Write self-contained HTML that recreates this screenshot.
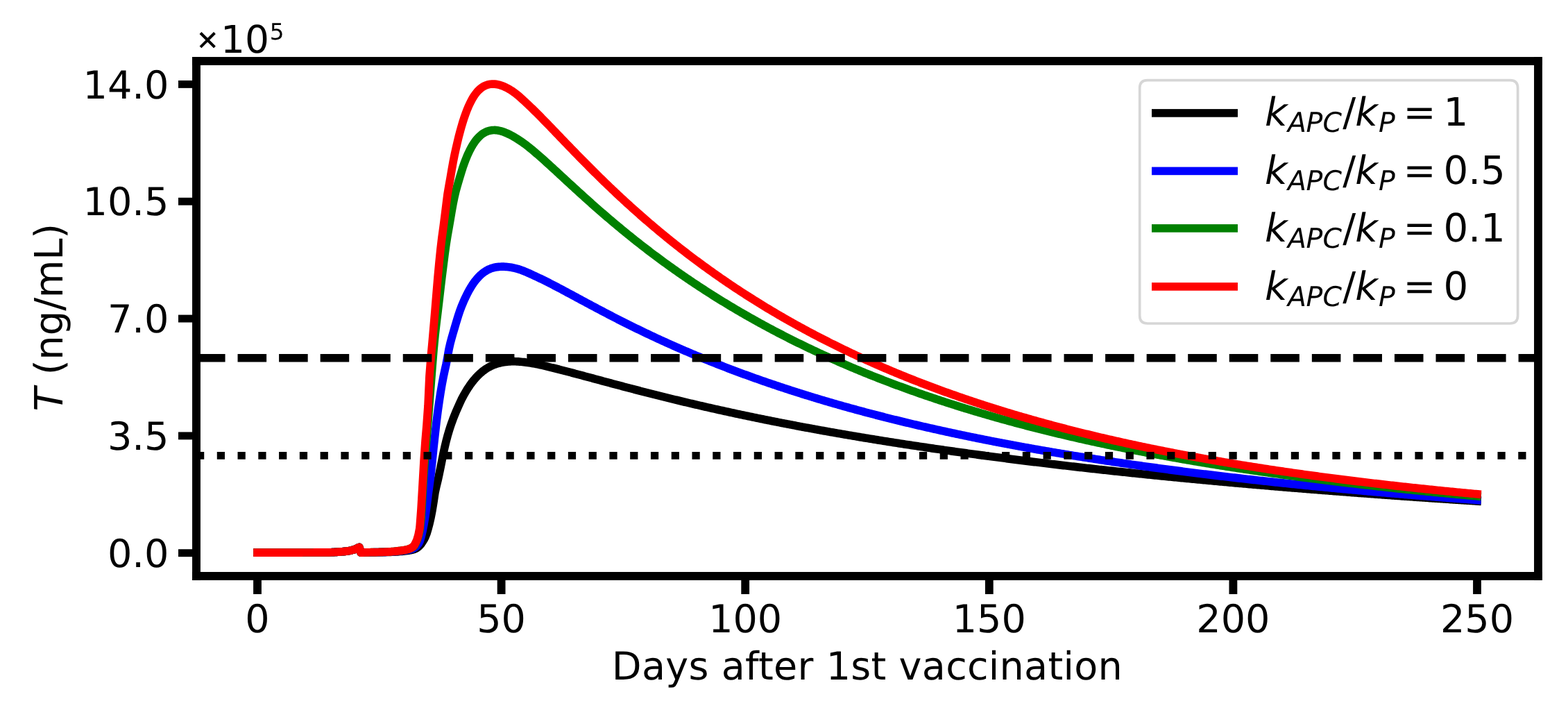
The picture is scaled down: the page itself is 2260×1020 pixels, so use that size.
<!DOCTYPE html>
<html lang="en">
<head>
<meta charset="utf-8">
<title>T (ng/mL) vs days after 1st vaccination</title>
<style>
html,body{margin:0;padding:0;background:#fff;}
body{width:2260px;height:1020px;overflow:hidden;}
svg{display:block;}
text{font-family:"DejaVu Sans", "Liberation Sans", sans-serif;font-size:56.18px;fill:#000;text-rendering:geometricPrecision;}
.yt text{font-size:55.7px;}
.xt text{font-size:55.6px;}
</style>
</head>
<body>
<svg width="2260" height="1020" viewBox="0 0 2260 1020" role="img" aria-label="T (ng/mL) versus days after 1st vaccination for four k_APC/k_P ratios">
<rect x="0" y="0" width="2260" height="1020" fill="#fff"/>
<defs><clipPath id="ax"><rect x="283" y="88" width="1934" height="741.95"/></clipPath></defs>
<g clip-path="url(#ax)" fill="none" stroke-width="11.7" stroke-linejoin="round" stroke-linecap="square">
<path d="M371 796.1 L373 796.1 L375 796.1 L377 796.1 L379 796.1 L381 796.1 L383 796.1 L385 796.1 L387 796.1 L389 796.1 L391 796.09 L393 796.09 L395 796.09 L397 796.09 L399 796.09 L401 796.09 L403 796.08 L405 796.08 L407 796.08 L409 796.08 L411 796.08 L413 796.07 L415 796.07 L417 796.07 L419 796.06 L421 796.06 L423 796.06 L425 796.05 L427 796.05 L429 796.04 L431 796.04 L433 796.03 L435 796.03 L437 796.02 L439 796.02 L441 796.01 L443 796.01 L445 796 L447 795.99 L449 795.99 L451 795.98 L453 795.97 L455 795.96 L457 795.96 L459 795.95 L461 795.94 L463 795.93 L465 795.92 L467 795.91 L469 795.9 L471 795.89 L473 795.86 L475 795.81 L477 795.74 L479 795.65 L481 795.55 L483 795.44 L485 795.32 L487 795.19 L489 795.06 L491 794.93 L493 794.77 L495 794.59 L497 794.37 L499 794.13 L501 793.86 L503 793.53 L505 793.14 L507 792.69 L509 792.18 L511 791.57 L513 790.74 L515 789.76 L517 788.62 L518 788.4 L520 796.1 L521 796.09 L523 796.03 L525 795.95 L527 795.9 L529 795.88 L531 795.86 L533 795.85 L535 795.84 L537 795.83 L539 795.81 L541 795.79 L543 795.76 L545 795.73 L547 795.7 L549 795.66 L551 795.62 L553 795.58 L555 795.53 L557 795.48 L559 795.43 L561 795.37 L563 795.31 L565 795.23 L567 795.15 L569 795.05 L571 794.94 L573 794.81 L575 794.65 L577 794.48 L579 794.3 L581 794.1 L583 793.9 L585 793.69 L587 793.44 L589 793.16 L591 792.83 L593 792.44 L595 791.95 L597 791.35 L599 790.57 L601 789.38 L603 787.86 L605 786.03 L607 783.64 L609 780.77 L611 777.5 L613 773.54 L615 768.63 L617 761.83 L619 754.25 L621 745.38 L623 735.1 L625 722.7 L627 709.47 L629 700.36 L631 692.21 L633 683.03 L635 673.41 L637 663.45 L639 653.3 L641 644.18 L643 635.76 L645 628.19 L647 621.34 L649 615.02 L651 609.14 L653 603.67 L655 598.58 L657 593.72 L659 589.18 L661 584.7 L663 580.18 L665 575.81 L667 571.96 L669 568.3 L671 564.83 L673 561.53 L675 558.41 L677 555.45 L679 552.65 L681 550.01 L683 547.52 L685 545.17 L687 542.97 L689 540.9 L691 538.97 L693 537.16 L695 535.48 L697 533.92 L699 532.46 L701 531.12 L703 529.89 L705 528.75 L707 527.71 L709 526.76 L711 525.9 L713 525.12 L715 524.42 L717 523.79 L719 523.23 L721 522.73 L723 522.29 L725 521.91 L727 521.59 L729 521.32 L731 521.11 L733 520.94 L735 520.82 L737 520.74 L739 520.71 L741 520.71 L743 520.76 L745 520.83 L747 520.94 L749 521.09 L751 521.26 L753 521.45 L755 521.67 L757 521.91 L759 522.18 L761 522.45 L763 522.75 L765 523.05 L767 523.38 L769 523.71 L771 524.06 L773 524.44 L775 524.83 L777 525.25 L779 525.68 L781 526.14 L783 526.61 L785 527.09 L787 527.58 L789 528.07 L791 528.57 L793 529.07 L795 529.56 L797 530.05 L799 530.55 L801 531.05 L803 531.55 L805 532.05 L807 532.56 L809 533.07 L811 533.58 L813 534.1 L815 534.62 L817 535.14 L819 535.66 L821 536.18 L823 536.71 L825 537.24 L827 537.77 L829 538.29 L831 538.83 L833 539.36 L835 539.89 L837 540.43 L839 540.96 L841 541.5 L843 542.03 L845 542.57 L847 543.11 L849 543.64 L851 544.18 L853 544.72 L855 545.26 L857 545.8 L859 546.34 L861 546.87 L863 547.41 L865 547.95 L867 548.49 L869 549.03 L871 549.56 L873 550.1 L875 550.64 L877 551.17 L879 551.71 L881 552.24 L883 552.78 L885 553.31 L887 553.85 L889 554.38 L891 554.91 L893 555.44 L895 555.97 L897 556.5 L899 557.03 L901 557.56 L903 558.09 L905 558.61 L907 559.14 L909 559.66 L911 560.18 L913 560.71 L915 561.23 L917 561.75 L919 562.27 L921 562.78 L923 563.3 L925 563.82 L927 564.33 L929 564.84 L931 565.36 L933 565.87 L935 566.38 L937 566.89 L939 567.39 L941 567.9 L943 568.4 L945 568.91 L947 569.41 L949 569.91 L951 570.41 L953 570.91 L955 571.41 L957 571.91 L959 572.4 L961 572.89 L963 573.39 L965 573.88 L967 574.37 L969 574.86 L971 575.34 L973 575.83 L975 576.31 L977 576.8 L979 577.28 L981 577.76 L983 578.24 L985 578.72 L987 579.19 L989 579.67 L991 580.14 L993 580.62 L995 581.09 L997 581.56 L999 582.03 L1001 582.5 L1003 582.96 L1005 583.43 L1007 583.89 L1009 584.35 L1011 584.81 L1013 585.27 L1015 585.73 L1017 586.19 L1019 586.64 L1021 587.1 L1023 587.55 L1025 588 L1027 588.45 L1029 588.9 L1031 589.35 L1033 589.8 L1035 590.24 L1037 590.69 L1039 591.13 L1041 591.57 L1043 592.01 L1045 592.45 L1047 592.89 L1049 593.33 L1051 593.76 L1053 594.2 L1055 594.63 L1057 595.06 L1059 595.49 L1061 595.92 L1063 596.35 L1065 596.77 L1067 597.2 L1069 597.62 L1071 598.05 L1073 598.47 L1075 598.89 L1077 599.31 L1079 599.73 L1081 600.14 L1083 600.56 L1085 600.97 L1087 601.39 L1089 601.8 L1091 602.21 L1093 602.62 L1095 603.03 L1097 603.44 L1099 603.84 L1101 604.25 L1103 604.65 L1105 605.05 L1107 605.45 L1109 605.85 L1111 606.25 L1113 606.65 L1115 607.05 L1117 607.45 L1119 607.84 L1121 608.23 L1123 608.63 L1125 609.02 L1127 609.41 L1129 609.8 L1131 610.18 L1133 610.57 L1135 610.96 L1137 611.34 L1139 611.73 L1141 612.11 L1143 612.49 L1145 612.87 L1147 613.25 L1149 613.63 L1151 614.01 L1153 614.38 L1155 614.76 L1157 615.13 L1159 615.5 L1161 615.88 L1163 616.25 L1165 616.62 L1167 616.99 L1169 617.35 L1171 617.72 L1173 618.09 L1175 618.45 L1177 618.81 L1179 619.18 L1181 619.54 L1183 619.9 L1185 620.26 L1187 620.62 L1189 620.98 L1191 621.33 L1193 621.69 L1195 622.04 L1197 622.4 L1199 622.75 L1201 623.1 L1203 623.45 L1205 623.8 L1207 624.15 L1209 624.5 L1211 624.85 L1213 625.19 L1215 625.54 L1217 625.88 L1219 626.23 L1221 626.57 L1223 626.91 L1225 627.25 L1227 627.59 L1229 627.93 L1231 628.27 L1233 628.6 L1235 628.94 L1237 629.28 L1239 629.61 L1241 629.94 L1243 630.28 L1245 630.61 L1247 630.94 L1249 631.27 L1251 631.6 L1253 631.93 L1255 632.25 L1257 632.58 L1259 632.9 L1261 633.23 L1263 633.55 L1265 633.88 L1267 634.2 L1269 634.52 L1271 634.84 L1273 635.16 L1275 635.48 L1277 635.8 L1279 636.11 L1281 636.43 L1283 636.74 L1285 637.06 L1287 637.37 L1289 637.69 L1291 638 L1293 638.31 L1295 638.62 L1297 638.93 L1299 639.24 L1301 639.55 L1303 639.85 L1305 640.16 L1307 640.47 L1309 640.77 L1311 641.07 L1313 641.38 L1315 641.68 L1317 641.98 L1319 642.28 L1321 642.58 L1323 642.88 L1325 643.18 L1327 643.48 L1329 643.78 L1331 644.07 L1333 644.37 L1335 644.66 L1337 644.96 L1339 645.25 L1341 645.54 L1343 645.84 L1345 646.13 L1347 646.42 L1349 646.71 L1351 647 L1353 647.29 L1355 647.57 L1357 647.86 L1359 648.15 L1361 648.43 L1363 648.72 L1365 649 L1367 649.28 L1369 649.57 L1371 649.85 L1373 650.13 L1375 650.41 L1377 650.69 L1379 650.97 L1381 651.25 L1383 651.53 L1385 651.8 L1387 652.08 L1389 652.35 L1391 652.63 L1393 652.9 L1395 653.18 L1397 653.45 L1399 653.72 L1401 654 L1403 654.27 L1405 654.54 L1407 654.81 L1409 655.08 L1411 655.34 L1413 655.61 L1415 655.88 L1417 656.15 L1419 656.41 L1421 656.68 L1423 656.94 L1425 657.21 L1427 657.47 L1429 657.73 L1431 657.99 L1433 658.25 L1435 658.52 L1437 658.78 L1439 659.03 L1441 659.29 L1443 659.55 L1445 659.81 L1447 660.07 L1449 660.32 L1451 660.58 L1453 660.83 L1455 661.09 L1457 661.34 L1459 661.6 L1461 661.85 L1463 662.1 L1465 662.35 L1467 662.6 L1469 662.85 L1471 663.1 L1473 663.35 L1475 663.6 L1477 663.85 L1479 664.1 L1481 664.35 L1483 664.59 L1485 664.84 L1487 665.08 L1489 665.33 L1491 665.57 L1493 665.82 L1495 666.06 L1497 666.3 L1499 666.54 L1501 666.78 L1503 667.02 L1505 667.26 L1507 667.5 L1509 667.74 L1511 667.98 L1513 668.22 L1515 668.46 L1517 668.69 L1519 668.93 L1521 669.17 L1523 669.4 L1525 669.64 L1527 669.87 L1529 670.1 L1531 670.34 L1533 670.57 L1535 670.8 L1537 671.03 L1539 671.26 L1541 671.5 L1543 671.73 L1545 671.95 L1547 672.18 L1549 672.41 L1551 672.64 L1553 672.87 L1555 673.09 L1557 673.32 L1559 673.55 L1561 673.77 L1563 674 L1565 674.22 L1567 674.44 L1569 674.67 L1571 674.89 L1573 675.11 L1575 675.34 L1577 675.56 L1579 675.78 L1581 676 L1583 676.22 L1585 676.44 L1587 676.66 L1589 676.87 L1591 677.09 L1593 677.31 L1595 677.53 L1597 677.74 L1599 677.96 L1601 678.17 L1603 678.39 L1605 678.6 L1607 678.82 L1609 679.03 L1611 679.25 L1613 679.46 L1615 679.67 L1617 679.88 L1619 680.09 L1621 680.3 L1623 680.51 L1625 680.72 L1627 680.93 L1629 681.14 L1631 681.35 L1633 681.56 L1635 681.77 L1637 681.97 L1639 682.18 L1641 682.39 L1643 682.59 L1645 682.8 L1647 683 L1649 683.21 L1651 683.41 L1653 683.62 L1655 683.82 L1657 684.02 L1659 684.23 L1661 684.43 L1663 684.63 L1665 684.83 L1667 685.03 L1669 685.23 L1671 685.43 L1673 685.63 L1675 685.83 L1677 686.03 L1679 686.23 L1681 686.42 L1683 686.62 L1685 686.82 L1687 687.01 L1689 687.21 L1691 687.4 L1693 687.6 L1695 687.79 L1697 687.99 L1699 688.18 L1701 688.38 L1703 688.57 L1705 688.76 L1707 688.95 L1709 689.15 L1711 689.34 L1713 689.53 L1715 689.72 L1717 689.91 L1719 690.1 L1721 690.29 L1723 690.48 L1725 690.67 L1727 690.86 L1729 691.04 L1731 691.23 L1733 691.42 L1735 691.61 L1737 691.79 L1739 691.98 L1741 692.16 L1743 692.35 L1745 692.53 L1747 692.72 L1749 692.9 L1751 693.09 L1753 693.27 L1755 693.45 L1757 693.63 L1759 693.82 L1761 694 L1763 694.18 L1765 694.36 L1767 694.54 L1769 694.72 L1771 694.9 L1773 695.08 L1775 695.26 L1777 695.44 L1779 695.62 L1781 695.8 L1783 695.97 L1785 696.15 L1787 696.33 L1789 696.5 L1791 696.68 L1793 696.86 L1795 697.03 L1797 697.21 L1799 697.38 L1801 697.56 L1803 697.73 L1805 697.9 L1807 698.08 L1809 698.25 L1811 698.42 L1813 698.6 L1815 698.77 L1817 698.94 L1819 699.11 L1821 699.28 L1823 699.45 L1825 699.62 L1827 699.79 L1829 699.96 L1831 700.13 L1833 700.3 L1835 700.47 L1837 700.64 L1839 700.81 L1841 700.97 L1843 701.14 L1845 701.31 L1847 701.47 L1849 701.64 L1851 701.81 L1853 701.97 L1855 702.14 L1857 702.3 L1859 702.47 L1861 702.63 L1863 702.8 L1865 702.96 L1867 703.12 L1869 703.29 L1871 703.45 L1873 703.61 L1875 703.77 L1877 703.93 L1879 704.1 L1881 704.26 L1883 704.42 L1885 704.58 L1887 704.74 L1889 704.9 L1891 705.06 L1893 705.22 L1895 705.38 L1897 705.53 L1899 705.69 L1901 705.85 L1903 706.01 L1905 706.17 L1907 706.32 L1909 706.48 L1911 706.64 L1913 706.79 L1915 706.95 L1917 707.1 L1919 707.26 L1921 707.41 L1923 707.57 L1925 707.72 L1927 707.88 L1929 708.03 L1931 708.18 L1933 708.34 L1935 708.49 L1937 708.64 L1939 708.79 L1941 708.95 L1943 709.1 L1945 709.25 L1947 709.4 L1949 709.55 L1951 709.7 L1953 709.85 L1955 710 L1957 710.15 L1959 710.3 L1961 710.45 L1963 710.6 L1965 710.74 L1967 710.89 L1969 711.04 L1971 711.19 L1973 711.34 L1975 711.48 L1977 711.63 L1979 711.78 L1981 711.92 L1983 712.07 L1985 712.21 L1987 712.36 L1989 712.5 L1991 712.65 L1993 712.79 L1995 712.94 L1997 713.08 L1999 713.22 L2001 713.37 L2003 713.51 L2005 713.65 L2007 713.8 L2009 713.94 L2011 714.08 L2013 714.22 L2015 714.36 L2017 714.51 L2019 714.65 L2021 714.79 L2023 714.93 L2025 715.07 L2027 715.21 L2029 715.35 L2031 715.49 L2033 715.63 L2035 715.76 L2037 715.9 L2039 716.04 L2041 716.18 L2043 716.32 L2045 716.45 L2047 716.59 L2049 716.73 L2051 716.87 L2053 717 L2055 717.14 L2057 717.27 L2059 717.41 L2061 717.54 L2063 717.68 L2065 717.81 L2067 717.95 L2069 718.08 L2071 718.22 L2073 718.35 L2075 718.49 L2077 718.62 L2079 718.75 L2081 718.89 L2083 719.02 L2085 719.15 L2087 719.28 L2089 719.41 L2091 719.55 L2093 719.68 L2095 719.81 L2097 719.94 L2099 720.07 L2101 720.2 L2103 720.33 L2105 720.46 L2107 720.59 L2109 720.72 L2111 720.85 L2113 720.98 L2115 721.11 L2117 721.24 L2119 721.36 L2121 721.49 L2123 721.62 L2125 721.75 L2127 721.88 L2129 722" stroke="#000000"/>
<path d="M371 796.1 L373 796.1 L375 796.1 L377 796.1 L379 796.1 L381 796.1 L383 796.1 L385 796.1 L387 796.1 L389 796.1 L391 796.09 L393 796.09 L395 796.09 L397 796.09 L399 796.09 L401 796.09 L403 796.08 L405 796.08 L407 796.08 L409 796.08 L411 796.08 L413 796.07 L415 796.07 L417 796.07 L419 796.06 L421 796.06 L423 796.06 L425 796.05 L427 796.05 L429 796.04 L431 796.04 L433 796.03 L435 796.03 L437 796.02 L439 796.02 L441 796.01 L443 796.01 L445 796 L447 795.99 L449 795.99 L451 795.98 L453 795.97 L455 795.96 L457 795.96 L459 795.95 L461 795.94 L463 795.93 L465 795.92 L467 795.91 L469 795.9 L471 795.89 L473 795.86 L475 795.81 L477 795.74 L479 795.65 L481 795.55 L483 795.44 L485 795.32 L487 795.19 L489 795.06 L491 794.93 L493 794.77 L495 794.59 L497 794.37 L499 794.13 L501 793.86 L503 793.53 L505 793.14 L507 792.69 L509 792.18 L511 791.57 L513 790.74 L515 789.76 L517 788.62 L518 788.4 L520 796.1 L521 796.09 L523 796.04 L525 795.96 L527 795.9 L529 795.86 L531 795.83 L533 795.8 L535 795.78 L537 795.75 L539 795.72 L541 795.68 L543 795.64 L545 795.6 L547 795.56 L549 795.52 L551 795.47 L553 795.42 L555 795.36 L557 795.3 L559 795.24 L561 795.16 L563 795.06 L565 794.95 L567 794.82 L569 794.67 L571 794.52 L573 794.35 L575 794.16 L577 793.95 L579 793.72 L581 793.48 L583 793.22 L585 792.93 L587 792.6 L589 792.22 L591 791.76 L593 791.18 L595 790.44 L597 789.5 L599 788.11 L601 786.15 L603 783.67 L605 780 L607 773.59 L609 765.22 L611 755.06 L613 743.23 L615 729.26 L617 713.11 L619 698.79 L621 683.23 L623 664.18 L625 644.61 L627 626.36 L629 608.63 L631 592.78 L633 578.68 L635 565.73 L637 553.89 L639 543.31 L641 534.04 L643 524.9 L645 514.58 L647 503.4 L649 494.49 L651 486.99 L653 480 L655 473.28 L657 466.44 L659 459.78 L661 453.3 L663 447.34 L665 442.08 L667 437.18 L669 432.55 L671 428.2 L673 424.11 L675 420.27 L677 416.67 L679 413.32 L681 410.19 L683 407.29 L685 404.6 L687 402.12 L689 399.84 L691 397.76 L693 395.85 L695 394.12 L697 392.57 L699 391.17 L701 389.92 L703 388.83 L705 387.87 L707 387.04 L709 386.33 L711 385.74 L713 385.25 L715 384.87 L717 384.57 L719 384.36 L721 384.23 L723 384.16 L725 384.16 L727 384.22 L729 384.33 L731 384.5 L733 384.73 L735 385 L737 385.33 L739 385.71 L741 386.14 L743 386.61 L745 387.13 L747 387.69 L749 388.32 L751 389 L753 389.72 L755 390.5 L757 391.31 L759 392.16 L761 393.04 L763 393.94 L765 394.85 L767 395.77 L769 396.7 L771 397.62 L773 398.55 L775 399.49 L777 400.43 L779 401.38 L781 402.34 L783 403.32 L785 404.31 L787 405.3 L789 406.31 L791 407.32 L793 408.34 L795 409.36 L797 410.4 L799 411.44 L801 412.48 L803 413.53 L805 414.58 L807 415.64 L809 416.7 L811 417.76 L813 418.83 L815 419.9 L817 420.97 L819 422.05 L821 423.12 L823 424.2 L825 425.27 L827 426.35 L829 427.43 L831 428.51 L833 429.59 L835 430.66 L837 431.74 L839 432.82 L841 433.89 L843 434.97 L845 436.04 L847 437.12 L849 438.19 L851 439.26 L853 440.32 L855 441.39 L857 442.46 L859 443.52 L861 444.58 L863 445.64 L865 446.69 L867 447.75 L869 448.8 L871 449.85 L873 450.89 L875 451.94 L877 452.98 L879 454.01 L881 455.05 L883 456.08 L885 457.11 L887 458.14 L889 459.16 L891 460.18 L893 461.2 L895 462.21 L897 463.22 L899 464.23 L901 465.24 L903 466.24 L905 467.24 L907 468.23 L909 469.22 L911 470.21 L913 471.2 L915 472.18 L917 473.16 L919 474.13 L921 475.1 L923 476.07 L925 477.04 L927 478 L929 478.96 L931 479.91 L933 480.86 L935 481.81 L937 482.75 L939 483.7 L941 484.63 L943 485.57 L945 486.5 L947 487.43 L949 488.35 L951 489.27 L953 490.19 L955 491.1 L957 492.01 L959 492.92 L961 493.82 L963 494.73 L965 495.62 L967 496.52 L969 497.41 L971 498.29 L973 499.18 L975 500.06 L977 500.94 L979 501.81 L981 502.68 L983 503.55 L985 504.41 L987 505.27 L989 506.13 L991 506.99 L993 507.84 L995 508.69 L997 509.53 L999 510.37 L1001 511.21 L1003 512.05 L1005 512.88 L1007 513.71 L1009 514.53 L1011 515.36 L1013 516.18 L1015 516.99 L1017 517.81 L1019 518.62 L1021 519.43 L1023 520.23 L1025 521.03 L1027 521.83 L1029 522.62 L1031 523.42 L1033 524.21 L1035 524.99 L1037 525.78 L1039 526.56 L1041 527.33 L1043 528.11 L1045 528.88 L1047 529.65 L1049 530.41 L1051 531.18 L1053 531.94 L1055 532.7 L1057 533.45 L1059 534.2 L1061 534.95 L1063 535.7 L1065 536.44 L1067 537.18 L1069 537.92 L1071 538.65 L1073 539.38 L1075 540.11 L1077 540.84 L1079 541.56 L1081 542.28 L1083 543 L1085 543.72 L1087 544.43 L1089 545.14 L1091 545.85 L1093 546.56 L1095 547.26 L1097 547.96 L1099 548.66 L1101 549.35 L1103 550.04 L1105 550.73 L1107 551.42 L1109 552.1 L1111 552.79 L1113 553.46 L1115 554.14 L1117 554.82 L1119 555.49 L1121 556.16 L1123 556.82 L1125 557.49 L1127 558.15 L1129 558.81 L1131 559.47 L1133 560.12 L1135 560.78 L1137 561.43 L1139 562.07 L1141 562.72 L1143 563.36 L1145 564 L1147 564.64 L1149 565.28 L1151 565.91 L1153 566.54 L1155 567.17 L1157 567.8 L1159 568.42 L1161 569.04 L1163 569.66 L1165 570.28 L1167 570.9 L1169 571.51 L1171 572.12 L1173 572.73 L1175 573.33 L1177 573.94 L1179 574.54 L1181 575.14 L1183 575.74 L1185 576.33 L1187 576.93 L1189 577.52 L1191 578.11 L1193 578.7 L1195 579.28 L1197 579.86 L1199 580.44 L1201 581.02 L1203 581.6 L1205 582.17 L1207 582.75 L1209 583.32 L1211 583.89 L1213 584.45 L1215 585.02 L1217 585.58 L1219 586.14 L1221 586.7 L1223 587.25 L1225 587.81 L1227 588.36 L1229 588.91 L1231 589.46 L1233 590.01 L1235 590.55 L1237 591.09 L1239 591.63 L1241 592.17 L1243 592.71 L1245 593.25 L1247 593.78 L1249 594.31 L1251 594.84 L1253 595.37 L1255 595.89 L1257 596.42 L1259 596.94 L1261 597.46 L1263 597.98 L1265 598.5 L1267 599.01 L1269 599.52 L1271 600.03 L1273 600.54 L1275 601.05 L1277 601.56 L1279 602.06 L1281 602.56 L1283 603.07 L1285 603.56 L1287 604.06 L1289 604.56 L1291 605.05 L1293 605.54 L1295 606.03 L1297 606.52 L1299 607.01 L1301 607.49 L1303 607.98 L1305 608.46 L1307 608.94 L1309 609.42 L1311 609.9 L1313 610.37 L1315 610.85 L1317 611.32 L1319 611.79 L1321 612.26 L1323 612.73 L1325 613.19 L1327 613.66 L1329 614.12 L1331 614.58 L1333 615.04 L1335 615.5 L1337 615.95 L1339 616.41 L1341 616.86 L1343 617.31 L1345 617.76 L1347 618.21 L1349 618.66 L1351 619.11 L1353 619.55 L1355 619.99 L1357 620.43 L1359 620.87 L1361 621.31 L1363 621.75 L1365 622.18 L1367 622.62 L1369 623.05 L1371 623.48 L1373 623.91 L1375 624.34 L1377 624.77 L1379 625.19 L1381 625.61 L1383 626.04 L1385 626.46 L1387 626.88 L1389 627.3 L1391 627.71 L1393 628.13 L1395 628.54 L1397 628.95 L1399 629.37 L1401 629.78 L1403 630.19 L1405 630.59 L1407 631 L1409 631.4 L1411 631.81 L1413 632.21 L1415 632.61 L1417 633.01 L1419 633.41 L1421 633.8 L1423 634.2 L1425 634.59 L1427 634.99 L1429 635.38 L1431 635.77 L1433 636.16 L1435 636.54 L1437 636.93 L1439 637.32 L1441 637.7 L1443 638.08 L1445 638.46 L1447 638.85 L1449 639.22 L1451 639.6 L1453 639.98 L1455 640.35 L1457 640.73 L1459 641.1 L1461 641.47 L1463 641.84 L1465 642.21 L1467 642.58 L1469 642.95 L1471 643.31 L1473 643.68 L1475 644.04 L1477 644.41 L1479 644.77 L1481 645.13 L1483 645.49 L1485 645.84 L1487 646.2 L1489 646.56 L1491 646.91 L1493 647.26 L1495 647.62 L1497 647.97 L1499 648.32 L1501 648.67 L1503 649.01 L1505 649.36 L1507 649.71 L1509 650.05 L1511 650.39 L1513 650.74 L1515 651.08 L1517 651.42 L1519 651.76 L1521 652.09 L1523 652.43 L1525 652.77 L1527 653.1 L1529 653.44 L1531 653.77 L1533 654.1 L1535 654.43 L1537 654.76 L1539 655.09 L1541 655.42 L1543 655.74 L1545 656.07 L1547 656.4 L1549 656.72 L1551 657.04 L1553 657.36 L1555 657.68 L1557 658 L1559 658.32 L1561 658.64 L1563 658.96 L1565 659.27 L1567 659.59 L1569 659.9 L1571 660.21 L1573 660.53 L1575 660.84 L1577 661.15 L1579 661.46 L1581 661.76 L1583 662.07 L1585 662.38 L1587 662.68 L1589 662.99 L1591 663.29 L1593 663.59 L1595 663.89 L1597 664.2 L1599 664.5 L1601 664.79 L1603 665.09 L1605 665.39 L1607 665.69 L1609 665.98 L1611 666.28 L1613 666.57 L1615 666.86 L1617 667.15 L1619 667.44 L1621 667.73 L1623 668.02 L1625 668.31 L1627 668.6 L1629 668.89 L1631 669.17 L1633 669.46 L1635 669.74 L1637 670.02 L1639 670.31 L1641 670.59 L1643 670.87 L1645 671.15 L1647 671.43 L1649 671.71 L1651 671.98 L1653 672.26 L1655 672.54 L1657 672.81 L1659 673.09 L1661 673.36 L1663 673.63 L1665 673.9 L1667 674.17 L1669 674.44 L1671 674.71 L1673 674.98 L1675 675.25 L1677 675.52 L1679 675.78 L1681 676.05 L1683 676.31 L1685 676.58 L1687 676.84 L1689 677.1 L1691 677.37 L1693 677.63 L1695 677.89 L1697 678.15 L1699 678.4 L1701 678.66 L1703 678.92 L1705 679.18 L1707 679.43 L1709 679.69 L1711 679.94 L1713 680.19 L1715 680.45 L1717 680.7 L1719 680.95 L1721 681.2 L1723 681.45 L1725 681.7 L1727 681.95 L1729 682.2 L1731 682.44 L1733 682.69 L1735 682.94 L1737 683.18 L1739 683.42 L1741 683.67 L1743 683.91 L1745 684.15 L1747 684.4 L1749 684.64 L1751 684.88 L1753 685.12 L1755 685.35 L1757 685.59 L1759 685.83 L1761 686.07 L1763 686.3 L1765 686.54 L1767 686.77 L1769 687.01 L1771 687.24 L1773 687.47 L1775 687.71 L1777 687.94 L1779 688.17 L1781 688.4 L1783 688.63 L1785 688.86 L1787 689.09 L1789 689.31 L1791 689.54 L1793 689.77 L1795 689.99 L1797 690.22 L1799 690.44 L1801 690.67 L1803 690.89 L1805 691.11 L1807 691.34 L1809 691.56 L1811 691.78 L1813 692 L1815 692.22 L1817 692.44 L1819 692.66 L1821 692.87 L1823 693.09 L1825 693.31 L1827 693.52 L1829 693.74 L1831 693.95 L1833 694.17 L1835 694.38 L1837 694.6 L1839 694.81 L1841 695.02 L1843 695.23 L1845 695.44 L1847 695.65 L1849 695.86 L1851 696.07 L1853 696.28 L1855 696.49 L1857 696.7 L1859 696.9 L1861 697.11 L1863 697.32 L1865 697.52 L1867 697.73 L1869 697.93 L1871 698.13 L1873 698.34 L1875 698.54 L1877 698.74 L1879 698.94 L1881 699.15 L1883 699.35 L1885 699.55 L1887 699.75 L1889 699.94 L1891 700.14 L1893 700.34 L1895 700.54 L1897 700.73 L1899 700.93 L1901 701.13 L1903 701.32 L1905 701.52 L1907 701.71 L1909 701.9 L1911 702.1 L1913 702.29 L1915 702.48 L1917 702.67 L1919 702.87 L1921 703.06 L1923 703.25 L1925 703.44 L1927 703.63 L1929 703.81 L1931 704 L1933 704.19 L1935 704.38 L1937 704.56 L1939 704.75 L1941 704.94 L1943 705.12 L1945 705.31 L1947 705.49 L1949 705.67 L1951 705.86 L1953 706.04 L1955 706.22 L1957 706.41 L1959 706.59 L1961 706.77 L1963 706.95 L1965 707.13 L1967 707.31 L1969 707.49 L1971 707.67 L1973 707.85 L1975 708.02 L1977 708.2 L1979 708.38 L1981 708.55 L1983 708.73 L1985 708.91 L1987 709.08 L1989 709.26 L1991 709.43 L1993 709.6 L1995 709.78 L1997 709.95 L1999 710.12 L2001 710.3 L2003 710.47 L2005 710.64 L2007 710.81 L2009 710.98 L2011 711.15 L2013 711.32 L2015 711.49 L2017 711.66 L2019 711.82 L2021 711.99 L2023 712.16 L2025 712.33 L2027 712.49 L2029 712.66 L2031 712.83 L2033 712.99 L2035 713.16 L2037 713.32 L2039 713.48 L2041 713.65 L2043 713.81 L2045 713.97 L2047 714.14 L2049 714.3 L2051 714.46 L2053 714.62 L2055 714.78 L2057 714.94 L2059 715.1 L2061 715.26 L2063 715.42 L2065 715.58 L2067 715.74 L2069 715.9 L2071 716.06 L2073 716.21 L2075 716.37 L2077 716.53 L2079 716.68 L2081 716.84 L2083 716.99 L2085 717.15 L2087 717.3 L2089 717.46 L2091 717.61 L2093 717.77 L2095 717.92 L2097 718.07 L2099 718.23 L2101 718.38 L2103 718.53 L2105 718.68 L2107 718.83 L2109 718.98 L2111 719.13 L2113 719.28 L2115 719.43 L2117 719.58 L2119 719.73 L2121 719.88 L2123 720.03 L2125 720.17 L2127 720.32 L2129 720.47" stroke="#0000ff"/>
<path d="M371 796.1 L373 796.1 L375 796.1 L377 796.1 L379 796.1 L381 796.1 L383 796.1 L385 796.1 L387 796.1 L389 796.1 L391 796.09 L393 796.09 L395 796.09 L397 796.09 L399 796.09 L401 796.09 L403 796.08 L405 796.08 L407 796.08 L409 796.08 L411 796.08 L413 796.07 L415 796.07 L417 796.07 L419 796.06 L421 796.06 L423 796.06 L425 796.05 L427 796.05 L429 796.04 L431 796.04 L433 796.03 L435 796.03 L437 796.02 L439 796.02 L441 796.01 L443 796.01 L445 796 L447 795.99 L449 795.99 L451 795.98 L453 795.97 L455 795.96 L457 795.96 L459 795.95 L461 795.94 L463 795.93 L465 795.92 L467 795.91 L469 795.9 L471 795.89 L473 795.86 L475 795.81 L477 795.74 L479 795.65 L481 795.55 L483 795.44 L485 795.32 L487 795.19 L489 795.06 L491 794.93 L493 794.77 L495 794.59 L497 794.37 L499 794.13 L501 793.86 L503 793.53 L505 793.14 L507 792.69 L509 792.18 L511 791.57 L513 790.74 L515 789.76 L517 788.62 L518 788.4 L520 796.1 L521 796.09 L523 796.04 L525 795.97 L527 795.9 L529 795.85 L531 795.8 L533 795.76 L535 795.72 L537 795.67 L539 795.63 L541 795.57 L543 795.53 L545 795.48 L547 795.43 L549 795.38 L551 795.32 L553 795.26 L555 795.2 L557 795.13 L559 795.04 L561 794.95 L563 794.82 L565 794.66 L567 794.48 L569 794.3 L571 794.1 L573 793.9 L575 793.67 L577 793.42 L579 793.15 L581 792.85 L583 792.52 L585 792.15 L587 791.72 L589 791.2 L591 790.55 L593 789.65 L595 788.39 L597 786.51 L599 783.15 L601 778.86 L603 773.08 L605 764.18 L607 747.35 L609 713.23 L611 679.89 L613 655.44 L615 631.28 L617 606.44 L619 580.88 L621 554.19 L623 528.67 L625 504.18 L627 483.17 L629 465.56 L631 449.19 L633 432.25 L635 415.02 L637 398.38 L639 382.16 L641 366.46 L643 352.01 L645 339.43 L647 328.03 L649 316.43 L651 304.49 L653 293.56 L655 283.56 L657 275.11 L659 267.88 L661 261.03 L663 254.42 L665 247.84 L667 241.4 L669 235.7 L671 230.39 L673 225.48 L675 220.95 L677 216.78 L679 212.96 L681 209.48 L683 206.31 L685 203.45 L687 200.88 L689 198.58 L691 196.55 L693 194.76 L695 193.2 L697 191.86 L699 190.72 L701 189.77 L703 188.99 L705 188.38 L707 187.93 L709 187.63 L711 187.48 L713 187.46 L715 187.57 L717 187.8 L719 188.15 L721 188.6 L723 189.15 L725 189.79 L727 190.51 L729 191.31 L731 192.17 L733 193.1 L735 194.08 L737 195.11 L739 196.19 L741 197.32 L743 198.49 L745 199.7 L747 200.96 L749 202.27 L751 203.62 L753 205.01 L755 206.44 L757 207.92 L759 209.44 L761 211 L763 212.59 L765 214.21 L767 215.86 L769 217.53 L771 219.22 L773 220.92 L775 222.65 L777 224.39 L779 226.15 L781 227.91 L783 229.69 L785 231.48 L787 233.28 L789 235.09 L791 236.91 L793 238.73 L795 240.55 L797 242.39 L799 244.22 L801 246.06 L803 247.9 L805 249.75 L807 251.59 L809 253.44 L811 255.28 L813 257.13 L815 258.98 L817 260.82 L819 262.67 L821 264.51 L823 266.35 L825 268.18 L827 270.02 L829 271.85 L831 273.68 L833 275.5 L835 277.32 L837 279.14 L839 280.95 L841 282.76 L843 284.56 L845 286.36 L847 288.16 L849 289.95 L851 291.73 L853 293.51 L855 295.28 L857 297.05 L859 298.81 L861 300.57 L863 302.32 L865 304.07 L867 305.81 L869 307.54 L871 309.27 L873 310.99 L875 312.71 L877 314.42 L879 316.12 L881 317.82 L883 319.51 L885 321.19 L887 322.87 L889 324.55 L891 326.21 L893 327.87 L895 329.52 L897 331.17 L899 332.81 L901 334.45 L903 336.08 L905 337.7 L907 339.31 L909 340.92 L911 342.52 L913 344.12 L915 345.71 L917 347.29 L919 348.87 L921 350.44 L923 352.01 L925 353.57 L927 355.12 L929 356.67 L931 358.21 L933 359.74 L935 361.27 L937 362.79 L939 364.3 L941 365.81 L943 367.32 L945 368.81 L947 370.3 L949 371.79 L951 373.27 L953 374.74 L955 376.21 L957 377.67 L959 379.12 L961 380.57 L963 382.01 L965 383.45 L967 384.88 L969 386.31 L971 387.73 L973 389.14 L975 390.55 L977 391.95 L979 393.35 L981 394.74 L983 396.12 L985 397.5 L987 398.87 L989 400.24 L991 401.6 L993 402.96 L995 404.31 L997 405.66 L999 407 L1001 408.33 L1003 409.66 L1005 410.99 L1007 412.3 L1009 413.62 L1011 414.92 L1013 416.23 L1015 417.52 L1017 418.81 L1019 420.1 L1021 421.38 L1023 422.66 L1025 423.93 L1027 425.19 L1029 426.45 L1031 427.71 L1033 428.96 L1035 430.2 L1037 431.44 L1039 432.68 L1041 433.91 L1043 435.13 L1045 436.35 L1047 437.56 L1049 438.77 L1051 439.98 L1053 441.18 L1055 442.37 L1057 443.56 L1059 444.75 L1061 445.93 L1063 447.1 L1065 448.28 L1067 449.44 L1069 450.6 L1071 451.76 L1073 452.91 L1075 454.06 L1077 455.2 L1079 456.34 L1081 457.47 L1083 458.6 L1085 459.72 L1087 460.84 L1089 461.96 L1091 463.07 L1093 464.18 L1095 465.28 L1097 466.37 L1099 467.47 L1101 468.55 L1103 469.64 L1105 470.72 L1107 471.79 L1109 472.86 L1111 473.93 L1113 474.99 L1115 476.05 L1117 477.1 L1119 478.15 L1121 479.2 L1123 480.24 L1125 481.28 L1127 482.31 L1129 483.34 L1131 484.36 L1133 485.38 L1135 486.4 L1137 487.41 L1139 488.42 L1141 489.42 L1143 490.42 L1145 491.42 L1147 492.41 L1149 493.4 L1151 494.38 L1153 495.36 L1155 496.34 L1157 497.31 L1159 498.28 L1161 499.24 L1163 500.2 L1165 501.16 L1167 502.11 L1169 503.06 L1171 504.01 L1173 504.95 L1175 505.89 L1177 506.82 L1179 507.75 L1181 508.68 L1183 509.6 L1185 510.52 L1187 511.44 L1189 512.35 L1191 513.26 L1193 514.16 L1195 515.06 L1197 515.96 L1199 516.85 L1201 517.75 L1203 518.63 L1205 519.52 L1207 520.4 L1209 521.27 L1211 522.15 L1213 523.02 L1215 523.88 L1217 524.74 L1219 525.6 L1221 526.46 L1223 527.31 L1225 528.16 L1227 529.01 L1229 529.85 L1231 530.69 L1233 531.53 L1235 532.36 L1237 533.19 L1239 534.02 L1241 534.84 L1243 535.66 L1245 536.47 L1247 537.29 L1249 538.1 L1251 538.91 L1253 539.71 L1255 540.51 L1257 541.31 L1259 542.1 L1261 542.89 L1263 543.68 L1265 544.47 L1267 545.25 L1269 546.03 L1271 546.8 L1273 547.58 L1275 548.35 L1277 549.11 L1279 549.88 L1281 550.64 L1283 551.4 L1285 552.15 L1287 552.9 L1289 553.65 L1291 554.4 L1293 555.14 L1295 555.88 L1297 556.62 L1299 557.36 L1301 558.09 L1303 558.82 L1305 559.55 L1307 560.27 L1309 560.99 L1311 561.71 L1313 562.42 L1315 563.14 L1317 563.85 L1319 564.55 L1321 565.26 L1323 565.96 L1325 566.66 L1327 567.35 L1329 568.05 L1331 568.74 L1333 569.43 L1335 570.11 L1337 570.79 L1339 571.48 L1341 572.15 L1343 572.83 L1345 573.5 L1347 574.17 L1349 574.84 L1351 575.5 L1353 576.17 L1355 576.83 L1357 577.48 L1359 578.14 L1361 578.79 L1363 579.44 L1365 580.09 L1367 580.73 L1369 581.37 L1371 582.01 L1373 582.65 L1375 583.29 L1377 583.92 L1379 584.55 L1381 585.18 L1383 585.8 L1385 586.43 L1387 587.05 L1389 587.67 L1391 588.28 L1393 588.9 L1395 589.51 L1397 590.12 L1399 590.72 L1401 591.33 L1403 591.93 L1405 592.53 L1407 593.13 L1409 593.72 L1411 594.32 L1413 594.91 L1415 595.5 L1417 596.08 L1419 596.67 L1421 597.25 L1423 597.83 L1425 598.41 L1427 598.98 L1429 599.56 L1431 600.13 L1433 600.7 L1435 601.27 L1437 601.83 L1439 602.39 L1441 602.95 L1443 603.51 L1445 604.07 L1447 604.62 L1449 605.18 L1451 605.73 L1453 606.28 L1455 606.82 L1457 607.37 L1459 607.91 L1461 608.45 L1463 608.99 L1465 609.52 L1467 610.06 L1469 610.59 L1471 611.12 L1473 611.65 L1475 612.18 L1477 612.7 L1479 613.22 L1481 613.74 L1483 614.26 L1485 614.78 L1487 615.3 L1489 615.81 L1491 616.32 L1493 616.83 L1495 617.34 L1497 617.84 L1499 618.35 L1501 618.85 L1503 619.35 L1505 619.85 L1507 620.34 L1509 620.84 L1511 621.33 L1513 621.82 L1515 622.31 L1517 622.8 L1519 623.28 L1521 623.77 L1523 624.25 L1525 624.73 L1527 625.21 L1529 625.68 L1531 626.16 L1533 626.63 L1535 627.1 L1537 627.57 L1539 628.04 L1541 628.51 L1543 628.97 L1545 629.44 L1547 629.9 L1549 630.36 L1551 630.82 L1553 631.27 L1555 631.73 L1557 632.18 L1559 632.63 L1561 633.08 L1563 633.53 L1565 633.98 L1567 634.42 L1569 634.87 L1571 635.31 L1573 635.75 L1575 636.19 L1577 636.63 L1579 637.06 L1581 637.5 L1583 637.93 L1585 638.36 L1587 638.79 L1589 639.22 L1591 639.64 L1593 640.07 L1595 640.49 L1597 640.91 L1599 641.33 L1601 641.75 L1603 642.17 L1605 642.59 L1607 643 L1609 643.41 L1611 643.82 L1613 644.23 L1615 644.64 L1617 645.05 L1619 645.46 L1621 645.86 L1623 646.26 L1625 646.66 L1627 647.06 L1629 647.46 L1631 647.86 L1633 648.26 L1635 648.65 L1637 649.04 L1639 649.43 L1641 649.82 L1643 650.21 L1645 650.6 L1647 650.99 L1649 651.37 L1651 651.76 L1653 652.14 L1655 652.52 L1657 652.9 L1659 653.28 L1661 653.65 L1663 654.03 L1665 654.4 L1667 654.78 L1669 655.15 L1671 655.52 L1673 655.89 L1675 656.25 L1677 656.62 L1679 656.99 L1681 657.35 L1683 657.71 L1685 658.07 L1687 658.43 L1689 658.79 L1691 659.15 L1693 659.51 L1695 659.86 L1697 660.22 L1699 660.57 L1701 660.92 L1703 661.27 L1705 661.62 L1707 661.97 L1709 662.31 L1711 662.66 L1713 663 L1715 663.35 L1717 663.69 L1719 664.03 L1721 664.37 L1723 664.71 L1725 665.05 L1727 665.38 L1729 665.72 L1731 666.05 L1733 666.38 L1735 666.72 L1737 667.05 L1739 667.38 L1741 667.7 L1743 668.03 L1745 668.36 L1747 668.68 L1749 669.01 L1751 669.33 L1753 669.65 L1755 669.97 L1757 670.29 L1759 670.61 L1761 670.93 L1763 671.24 L1765 671.56 L1767 671.87 L1769 672.19 L1771 672.5 L1773 672.81 L1775 673.12 L1777 673.43 L1779 673.74 L1781 674.04 L1783 674.35 L1785 674.65 L1787 674.96 L1789 675.26 L1791 675.56 L1793 675.86 L1795 676.16 L1797 676.46 L1799 676.76 L1801 677.06 L1803 677.35 L1805 677.65 L1807 677.94 L1809 678.23 L1811 678.53 L1813 678.82 L1815 679.11 L1817 679.4 L1819 679.68 L1821 679.97 L1823 680.26 L1825 680.54 L1827 680.83 L1829 681.11 L1831 681.39 L1833 681.67 L1835 681.95 L1837 682.23 L1839 682.51 L1841 682.79 L1843 683.07 L1845 683.34 L1847 683.62 L1849 683.89 L1851 684.17 L1853 684.44 L1855 684.71 L1857 684.98 L1859 685.25 L1861 685.52 L1863 685.79 L1865 686.05 L1867 686.32 L1869 686.59 L1871 686.85 L1873 687.11 L1875 687.38 L1877 687.64 L1879 687.9 L1881 688.16 L1883 688.42 L1885 688.68 L1887 688.94 L1889 689.19 L1891 689.45 L1893 689.71 L1895 689.96 L1897 690.21 L1899 690.47 L1901 690.72 L1903 690.97 L1905 691.22 L1907 691.47 L1909 691.72 L1911 691.97 L1913 692.22 L1915 692.46 L1917 692.71 L1919 692.95 L1921 693.2 L1923 693.44 L1925 693.68 L1927 693.92 L1929 694.17 L1931 694.41 L1933 694.65 L1935 694.88 L1937 695.12 L1939 695.36 L1941 695.6 L1943 695.83 L1945 696.07 L1947 696.3 L1949 696.54 L1951 696.77 L1953 697 L1955 697.23 L1957 697.46 L1959 697.69 L1961 697.92 L1963 698.15 L1965 698.38 L1967 698.61 L1969 698.83 L1971 699.06 L1973 699.28 L1975 699.51 L1977 699.73 L1979 699.95 L1981 700.18 L1983 700.4 L1985 700.62 L1987 700.84 L1989 701.06 L1991 701.28 L1993 701.5 L1995 701.71 L1997 701.93 L1999 702.15 L2001 702.36 L2003 702.58 L2005 702.79 L2007 703 L2009 703.22 L2011 703.43 L2013 703.64 L2015 703.85 L2017 704.06 L2019 704.27 L2021 704.48 L2023 704.69 L2025 704.9 L2027 705.1 L2029 705.31 L2031 705.52 L2033 705.72 L2035 705.92 L2037 706.13 L2039 706.33 L2041 706.53 L2043 706.74 L2045 706.94 L2047 707.14 L2049 707.34 L2051 707.54 L2053 707.74 L2055 707.94 L2057 708.13 L2059 708.33 L2061 708.53 L2063 708.72 L2065 708.92 L2067 709.11 L2069 709.31 L2071 709.5 L2073 709.7 L2075 709.89 L2077 710.08 L2079 710.27 L2081 710.46 L2083 710.65 L2085 710.84 L2087 711.03 L2089 711.22 L2091 711.41 L2093 711.6 L2095 711.78 L2097 711.97 L2099 712.16 L2101 712.34 L2103 712.53 L2105 712.71 L2107 712.89 L2109 713.08 L2111 713.26 L2113 713.44 L2115 713.62 L2117 713.8 L2119 713.98 L2121 714.16 L2123 714.34 L2125 714.52 L2127 714.7 L2129 714.88" stroke="#008000"/>
<path d="M371 796.1 L373 796.1 L375 796.1 L377 796.1 L379 796.1 L381 796.1 L383 796.1 L385 796.1 L387 796.1 L389 796.1 L391 796.09 L393 796.09 L395 796.09 L397 796.09 L399 796.09 L401 796.09 L403 796.08 L405 796.08 L407 796.08 L409 796.08 L411 796.08 L413 796.07 L415 796.07 L417 796.07 L419 796.06 L421 796.06 L423 796.06 L425 796.05 L427 796.05 L429 796.04 L431 796.04 L433 796.03 L435 796.03 L437 796.02 L439 796.02 L441 796.01 L443 796.01 L445 796 L447 795.99 L449 795.99 L451 795.98 L453 795.97 L455 795.96 L457 795.96 L459 795.95 L461 795.94 L463 795.93 L465 795.92 L467 795.91 L469 795.9 L471 795.89 L473 795.86 L475 795.81 L477 795.74 L479 795.65 L481 795.55 L483 795.44 L485 795.32 L487 795.19 L489 795.06 L491 794.93 L493 794.77 L495 794.59 L497 794.37 L499 794.13 L501 793.86 L503 793.53 L505 793.14 L507 792.69 L509 792.18 L511 791.57 L513 790.74 L515 789.76 L517 788.62 L518 788.4 L520 796.1 L521 796.09 L523 796.04 L525 795.97 L527 795.9 L529 795.85 L531 795.8 L533 795.76 L535 795.72 L537 795.67 L539 795.63 L541 795.57 L543 795.53 L545 795.48 L547 795.43 L549 795.38 L551 795.32 L553 795.26 L555 795.2 L557 795.13 L559 795.04 L561 794.95 L563 794.82 L565 794.66 L567 794.48 L569 794.3 L571 794.1 L573 793.9 L575 793.68 L577 793.43 L579 793.15 L581 792.84 L583 792.49 L585 792.09 L587 791.61 L589 791.03 L591 790.31 L593 789.3 L595 787.88 L597 785.8 L599 782.19 L601 777.53 L603 770.84 L605 760.52 L607 733.97 L609 700.05 L611 664.96 L613 635.95 L615 612.59 L617 584.69 L619 541.6 L621 515.71 L623 494.53 L625 471.49 L627 448.26 L629 424.02 L631 400 L633 378.55 L635 358.89 L637 341.97 L639 327.45 L641 312.09 L643 295.9 L645 280 L647 268.21 L649 257.1 L651 245.18 L653 233.9 L655 223.92 L657 214.7 L659 205.98 L661 197.69 L663 189.94 L665 182.71 L667 176 L669 169.79 L671 164.06 L673 158.78 L675 153.95 L677 149.55 L679 145.55 L681 141.94 L683 138.69 L685 135.79 L687 133.21 L689 130.95 L691 128.97 L693 127.26 L695 125.8 L697 124.56 L699 123.54 L701 122.71 L703 122.05 L705 121.56 L707 121.23 L709 121.06 L711 121.02 L713 121.12 L715 121.35 L717 121.7 L719 122.15 L721 122.71 L723 123.37 L725 124.11 L727 124.95 L729 125.88 L731 126.88 L733 127.96 L735 129.11 L737 130.35 L739 131.69 L741 133.11 L743 134.62 L745 136.2 L747 137.86 L749 139.57 L751 141.34 L753 143.14 L755 144.97 L757 146.82 L759 148.68 L761 150.55 L763 152.44 L765 154.36 L767 156.29 L769 158.24 L771 160.21 L773 162.19 L775 164.18 L777 166.19 L779 168.21 L781 170.24 L783 172.27 L785 174.32 L787 176.37 L789 178.43 L791 180.49 L793 182.56 L795 184.63 L797 186.71 L799 188.79 L801 190.87 L803 192.95 L805 195.03 L807 197.11 L809 199.19 L811 201.27 L813 203.35 L815 205.43 L817 207.51 L819 209.58 L821 211.66 L823 213.73 L825 215.79 L827 217.85 L829 219.91 L831 221.97 L833 224.02 L835 226.06 L837 228.1 L839 230.14 L841 232.17 L843 234.2 L845 236.22 L847 238.24 L849 240.25 L851 242.25 L853 244.25 L855 246.24 L857 248.23 L859 250.21 L861 252.18 L863 254.15 L865 256.11 L867 258.06 L869 260.01 L871 261.95 L873 263.89 L875 265.81 L877 267.73 L879 269.65 L881 271.56 L883 273.46 L885 275.35 L887 277.24 L889 279.12 L891 280.99 L893 282.85 L895 284.71 L897 286.56 L899 288.41 L901 290.24 L903 292.08 L905 293.9 L907 295.71 L909 297.52 L911 299.33 L913 301.12 L915 302.91 L917 304.69 L919 306.46 L921 308.23 L923 309.99 L925 311.74 L927 313.49 L929 315.23 L931 316.96 L933 318.68 L935 320.4 L937 322.11 L939 323.82 L941 325.51 L943 327.21 L945 328.89 L947 330.57 L949 332.24 L951 333.9 L953 335.55 L955 337.2 L957 338.85 L959 340.48 L961 342.11 L963 343.73 L965 345.35 L967 346.96 L969 348.56 L971 350.16 L973 351.75 L975 353.33 L977 354.91 L979 356.48 L981 358.04 L983 359.6 L985 361.15 L987 362.7 L989 364.23 L991 365.77 L993 367.29 L995 368.81 L997 370.32 L999 371.83 L1001 373.33 L1003 374.83 L1005 376.31 L1007 377.8 L1009 379.27 L1011 380.74 L1013 382.21 L1015 383.66 L1017 385.11 L1019 386.56 L1021 388 L1023 389.43 L1025 390.86 L1027 392.28 L1029 393.7 L1031 395.11 L1033 396.52 L1035 397.91 L1037 399.31 L1039 400.69 L1041 402.08 L1043 403.45 L1045 404.82 L1047 406.19 L1049 407.55 L1051 408.9 L1053 410.25 L1055 411.59 L1057 412.93 L1059 414.26 L1061 415.58 L1063 416.9 L1065 418.22 L1067 419.53 L1069 420.83 L1071 422.13 L1073 423.42 L1075 424.71 L1077 426 L1079 427.27 L1081 428.55 L1083 429.81 L1085 431.07 L1087 432.33 L1089 433.58 L1091 434.83 L1093 436.07 L1095 437.31 L1097 438.54 L1099 439.76 L1101 440.99 L1103 442.2 L1105 443.41 L1107 444.62 L1109 445.82 L1111 447.02 L1113 448.21 L1115 449.39 L1117 450.58 L1119 451.75 L1121 452.93 L1123 454.09 L1125 455.26 L1127 456.41 L1129 457.57 L1131 458.72 L1133 459.86 L1135 461 L1137 462.13 L1139 463.26 L1141 464.39 L1143 465.51 L1145 466.62 L1147 467.74 L1149 468.84 L1151 469.95 L1153 471.04 L1155 472.14 L1157 473.23 L1159 474.31 L1161 475.39 L1163 476.47 L1165 477.54 L1167 478.61 L1169 479.67 L1171 480.73 L1173 481.78 L1175 482.83 L1177 483.88 L1179 484.92 L1181 485.96 L1183 486.99 L1185 488.02 L1187 489.04 L1189 490.06 L1191 491.08 L1193 492.09 L1195 493.1 L1197 494.11 L1199 495.11 L1201 496.1 L1203 497.09 L1205 498.08 L1207 499.07 L1209 500.05 L1211 501.02 L1213 502 L1215 502.96 L1217 503.93 L1219 504.89 L1221 505.85 L1223 506.8 L1225 507.75 L1227 508.69 L1229 509.64 L1231 510.57 L1233 511.51 L1235 512.44 L1237 513.36 L1239 514.29 L1241 515.21 L1243 516.12 L1245 517.03 L1247 517.94 L1249 518.85 L1251 519.75 L1253 520.64 L1255 521.54 L1257 522.43 L1259 523.31 L1261 524.2 L1263 525.08 L1265 525.95 L1267 526.82 L1269 527.69 L1271 528.56 L1273 529.42 L1275 530.28 L1277 531.13 L1279 531.99 L1281 532.83 L1283 533.68 L1285 534.52 L1287 535.36 L1289 536.19 L1291 537.03 L1293 537.86 L1295 538.68 L1297 539.5 L1299 540.32 L1301 541.14 L1303 541.95 L1305 542.76 L1307 543.56 L1309 544.36 L1311 545.16 L1313 545.96 L1315 546.75 L1317 547.54 L1319 548.33 L1321 549.11 L1323 549.89 L1325 550.67 L1327 551.45 L1329 552.22 L1331 552.99 L1333 553.75 L1335 554.51 L1337 555.27 L1339 556.03 L1341 556.78 L1343 557.53 L1345 558.28 L1347 559.02 L1349 559.77 L1351 560.5 L1353 561.24 L1355 561.97 L1357 562.7 L1359 563.43 L1361 564.15 L1363 564.88 L1365 565.59 L1367 566.31 L1369 567.02 L1371 567.73 L1373 568.44 L1375 569.14 L1377 569.85 L1379 570.55 L1381 571.24 L1383 571.94 L1385 572.63 L1387 573.31 L1389 574 L1391 574.68 L1393 575.36 L1395 576.04 L1397 576.72 L1399 577.39 L1401 578.06 L1403 578.73 L1405 579.39 L1407 580.05 L1409 580.71 L1411 581.37 L1413 582.02 L1415 582.67 L1417 583.32 L1419 583.97 L1421 584.61 L1423 585.26 L1425 585.89 L1427 586.53 L1429 587.17 L1431 587.8 L1433 588.43 L1435 589.05 L1437 589.68 L1439 590.3 L1441 590.92 L1443 591.54 L1445 592.15 L1447 592.77 L1449 593.38 L1451 593.98 L1453 594.59 L1455 595.19 L1457 595.79 L1459 596.39 L1461 596.99 L1463 597.58 L1465 598.17 L1467 598.76 L1469 599.35 L1471 599.94 L1473 600.52 L1475 601.1 L1477 601.68 L1479 602.25 L1481 602.83 L1483 603.4 L1485 603.97 L1487 604.54 L1489 605.1 L1491 605.66 L1493 606.22 L1495 606.78 L1497 607.34 L1499 607.89 L1501 608.45 L1503 609 L1505 609.54 L1507 610.09 L1509 610.63 L1511 611.18 L1513 611.72 L1515 612.25 L1517 612.79 L1519 613.32 L1521 613.86 L1523 614.39 L1525 614.91 L1527 615.44 L1529 615.96 L1531 616.48 L1533 617 L1535 617.52 L1537 618.04 L1539 618.55 L1541 619.06 L1543 619.57 L1545 620.08 L1547 620.59 L1549 621.09 L1551 621.6 L1553 622.1 L1555 622.59 L1557 623.09 L1559 623.59 L1561 624.08 L1563 624.57 L1565 625.06 L1567 625.55 L1569 626.03 L1571 626.52 L1573 627 L1575 627.48 L1577 627.96 L1579 628.43 L1581 628.91 L1583 629.38 L1585 629.85 L1587 630.32 L1589 630.79 L1591 631.26 L1593 631.72 L1595 632.19 L1597 632.65 L1599 633.11 L1601 633.56 L1603 634.02 L1605 634.47 L1607 634.93 L1609 635.38 L1611 635.83 L1613 636.27 L1615 636.72 L1617 637.16 L1619 637.61 L1621 638.05 L1623 638.49 L1625 638.92 L1627 639.36 L1629 639.79 L1631 640.23 L1633 640.66 L1635 641.09 L1637 641.52 L1639 641.94 L1641 642.37 L1643 642.79 L1645 643.21 L1647 643.63 L1649 644.05 L1651 644.47 L1653 644.88 L1655 645.3 L1657 645.71 L1659 646.12 L1661 646.53 L1663 646.94 L1665 647.35 L1667 647.75 L1669 648.16 L1671 648.56 L1673 648.96 L1675 649.36 L1677 649.76 L1679 650.15 L1681 650.55 L1683 650.94 L1685 651.33 L1687 651.72 L1689 652.11 L1691 652.5 L1693 652.89 L1695 653.27 L1697 653.66 L1699 654.04 L1701 654.42 L1703 654.8 L1705 655.18 L1707 655.55 L1709 655.93 L1711 656.3 L1713 656.68 L1715 657.05 L1717 657.42 L1719 657.79 L1721 658.15 L1723 658.52 L1725 658.88 L1727 659.25 L1729 659.61 L1731 659.97 L1733 660.33 L1735 660.69 L1737 661.05 L1739 661.4 L1741 661.76 L1743 662.11 L1745 662.46 L1747 662.81 L1749 663.16 L1751 663.51 L1753 663.86 L1755 664.2 L1757 664.55 L1759 664.89 L1761 665.23 L1763 665.57 L1765 665.91 L1767 666.25 L1769 666.59 L1771 666.92 L1773 667.26 L1775 667.59 L1777 667.92 L1779 668.26 L1781 668.59 L1783 668.92 L1785 669.24 L1787 669.57 L1789 669.9 L1791 670.22 L1793 670.54 L1795 670.86 L1797 671.19 L1799 671.51 L1801 671.82 L1803 672.14 L1805 672.46 L1807 672.77 L1809 673.09 L1811 673.4 L1813 673.71 L1815 674.02 L1817 674.33 L1819 674.64 L1821 674.95 L1823 675.26 L1825 675.56 L1827 675.87 L1829 676.17 L1831 676.47 L1833 676.78 L1835 677.08 L1837 677.37 L1839 677.67 L1841 677.97 L1843 678.27 L1845 678.56 L1847 678.86 L1849 679.15 L1851 679.44 L1853 679.73 L1855 680.02 L1857 680.31 L1859 680.6 L1861 680.89 L1863 681.17 L1865 681.46 L1867 681.74 L1869 682.03 L1871 682.31 L1873 682.59 L1875 682.87 L1877 683.15 L1879 683.43 L1881 683.7 L1883 683.98 L1885 684.26 L1887 684.53 L1889 684.81 L1891 685.08 L1893 685.35 L1895 685.62 L1897 685.89 L1899 686.16 L1901 686.43 L1903 686.7 L1905 686.96 L1907 687.23 L1909 687.49 L1911 687.76 L1913 688.02 L1915 688.28 L1917 688.54 L1919 688.8 L1921 689.06 L1923 689.32 L1925 689.58 L1927 689.83 L1929 690.09 L1931 690.34 L1933 690.6 L1935 690.85 L1937 691.1 L1939 691.35 L1941 691.61 L1943 691.86 L1945 692.1 L1947 692.35 L1949 692.6 L1951 692.85 L1953 693.09 L1955 693.34 L1957 693.58 L1959 693.82 L1961 694.07 L1963 694.31 L1965 694.55 L1967 694.79 L1969 695.03 L1971 695.27 L1973 695.5 L1975 695.74 L1977 695.98 L1979 696.21 L1981 696.45 L1983 696.68 L1985 696.91 L1987 697.15 L1989 697.38 L1991 697.61 L1993 697.84 L1995 698.07 L1997 698.3 L1999 698.52 L2001 698.75 L2003 698.98 L2005 699.2 L2007 699.43 L2009 699.65 L2011 699.87 L2013 700.1 L2015 700.32 L2017 700.54 L2019 700.76 L2021 700.98 L2023 701.2 L2025 701.42 L2027 701.63 L2029 701.85 L2031 702.07 L2033 702.28 L2035 702.5 L2037 702.71 L2039 702.93 L2041 703.14 L2043 703.35 L2045 703.56 L2047 703.77 L2049 703.98 L2051 704.19 L2053 704.4 L2055 704.61 L2057 704.81 L2059 705.02 L2061 705.23 L2063 705.43 L2065 705.64 L2067 705.84 L2069 706.04 L2071 706.25 L2073 706.45 L2075 706.65 L2077 706.85 L2079 707.05 L2081 707.25 L2083 707.45 L2085 707.65 L2087 707.85 L2089 708.04 L2091 708.24 L2093 708.43 L2095 708.63 L2097 708.82 L2099 709.02 L2101 709.21 L2103 709.4 L2105 709.6 L2107 709.79 L2109 709.98 L2111 710.17 L2113 710.36 L2115 710.55 L2117 710.74 L2119 710.92 L2121 711.11 L2123 711.3 L2125 711.48 L2127 711.67 L2129 711.85" stroke="#ff0000"/>
</g>
<g clip-path="url(#ax)" fill="none" stroke="#000">
<path d="M283 515.85 H2217" stroke-width="11.5" stroke-dasharray="41.57 17.98"/>
<path d="M283 656.45 H2217" stroke-width="10.8" stroke-dasharray="11.23 18.54"/>
</g>
<g fill="#000" stroke="none">
<rect x="365.1" y="829.95" width="11.8" height="26"/>
<rect x="716.7" y="829.95" width="11.8" height="26"/>
<rect x="1068.3" y="829.95" width="11.8" height="26"/>
<rect x="1419.9" y="829.95" width="11.8" height="26"/>
<rect x="1771.5" y="829.95" width="11.8" height="26"/>
<rect x="2123.1" y="829.95" width="11.8" height="26"/>
<rect x="257" y="791.25" width="26" height="10.9"/>
<rect x="257" y="622.42" width="26" height="10.9"/>
<rect x="257" y="453.6" width="26" height="10.9"/>
<rect x="257" y="284.78" width="26" height="10.9"/>
<rect x="257" y="115.95" width="26" height="10.9"/>
<rect x="277.05" y="82.05" width="1945.9" height="11.9"/>
<rect x="277.05" y="824" width="1945.9" height="11.9"/>
<rect x="277.05" y="82.05" width="11.9" height="753.85"/>
<rect x="2211.05" y="82.05" width="11.9" height="753.85"/>
</g>
<g text-anchor="middle" class="xt">
<text x="371" y="910.6">0</text>
<text x="722.6" y="910.6">50</text>
<text x="1074.2" y="910.6">100</text>
<text x="1425.8" y="910.6">150</text>
<text x="1777.4" y="910.6">200</text>
<text x="2129" y="910.6">250</text>
<text x="1250" y="979.3" letter-spacing="0.29">Days after 1st vaccination</text>
</g>
<g text-anchor="end" class="yt">
<text x="243.5" y="816.9">0.0</text>
<text x="243.5" y="648.08">3.5</text>
<text x="243.5" y="479.25">7.0</text>
<text x="243.5" y="310.43">10.5</text>
<text x="243.5" y="141.6">14.0</text>
</g>
<text transform="translate(89.8 592.4) rotate(-90)" style="white-space:pre"><tspan x="0" y="0" font-style="oblique">T</tspan><tspan x="34.5" y="0" letter-spacing="-0.25"> (ng/mL)</tspan></text>
<text><tspan x="282.7" y="69.8" font-size="39.3" stroke="#000" stroke-width="0.8">×</tspan><tspan x="318.1" y="75.6" font-size="55">10</tspan><tspan x="388.8" y="57.1" font-size="32.7">5</tspan></text>
<path d="M1653.9 466 L2176.4 466 Q2187.6 466 2187.6 454.8 L2187.6 126.8 Q2187.6 115.6 2176.4 115.6 L1653.9 115.6 Q1642.7 115.6 1642.7 126.8 L1642.7 454.8 Q1642.7 466 1653.9 466 Z" fill="#fff" fill-opacity="0.8" stroke="#ccc" stroke-opacity="0.8" stroke-width="3.7" stroke-linejoin="miter"/>
<g stroke="none">
<rect x="1660" y="157.1" width="124" height="11.6" fill="#000000"/>
<rect x="1660" y="240.6" width="124" height="11.6" fill="#0000ff"/>
<rect x="1660" y="323.1" width="124" height="11.6" fill="#008000"/>
<rect x="1660" y="407.1" width="124" height="11.6" fill="#ff0000"/>
</g>
<text class="lt"><tspan x="1823" y="180.7" font-size="56.18" font-style="oblique">k</tspan><tspan x="1856.1" y="189.8" font-size="39.33" font-style="oblique">A</tspan><tspan x="1882.4" y="189.8" font-size="39.33" font-style="oblique">P</tspan><tspan x="1906.4" y="189.8" font-size="39.33" font-style="oblique">C</tspan><tspan x="1935.2" y="180.7" font-size="56.18">/</tspan><tspan x="1953.2" y="180.7" font-size="56.18" font-style="oblique">k</tspan><tspan x="1987" y="189.8" font-size="39.33" font-style="oblique">P</tspan><tspan x="2022.6" y="180.7" font-size="56.18">=</tspan><tspan x="2080.4" y="180.7" font-size="56.18">1</tspan></text>
<text class="lt"><tspan x="1823" y="264.8" font-size="56.18" font-style="oblique">k</tspan><tspan x="1856.1" y="273.9" font-size="39.33" font-style="oblique">A</tspan><tspan x="1882.4" y="273.9" font-size="39.33" font-style="oblique">P</tspan><tspan x="1906.4" y="273.9" font-size="39.33" font-style="oblique">C</tspan><tspan x="1935.2" y="264.8" font-size="56.18">/</tspan><tspan x="1953.2" y="264.8" font-size="56.18" font-style="oblique">k</tspan><tspan x="1987" y="273.9" font-size="39.33" font-style="oblique">P</tspan><tspan x="2022.6" y="264.8" font-size="56.18">=</tspan><tspan x="2080.4" y="264.8" font-size="56.18">0.5</tspan></text>
<text class="lt"><tspan x="1823" y="347.8" font-size="56.18" font-style="oblique">k</tspan><tspan x="1856.1" y="356.9" font-size="39.33" font-style="oblique">A</tspan><tspan x="1882.4" y="356.9" font-size="39.33" font-style="oblique">P</tspan><tspan x="1906.4" y="356.9" font-size="39.33" font-style="oblique">C</tspan><tspan x="1935.2" y="347.8" font-size="56.18">/</tspan><tspan x="1953.2" y="347.8" font-size="56.18" font-style="oblique">k</tspan><tspan x="1987" y="356.9" font-size="39.33" font-style="oblique">P</tspan><tspan x="2022.6" y="347.8" font-size="56.18">=</tspan><tspan x="2080.4" y="347.8" font-size="56.18">0.1</tspan></text>
<text class="lt"><tspan x="1823" y="431.9" font-size="56.18" font-style="oblique">k</tspan><tspan x="1856.1" y="441" font-size="39.33" font-style="oblique">A</tspan><tspan x="1882.4" y="441" font-size="39.33" font-style="oblique">P</tspan><tspan x="1906.4" y="441" font-size="39.33" font-style="oblique">C</tspan><tspan x="1935.2" y="431.9" font-size="56.18">/</tspan><tspan x="1953.2" y="431.9" font-size="56.18" font-style="oblique">k</tspan><tspan x="1987" y="441" font-size="39.33" font-style="oblique">P</tspan><tspan x="2022.6" y="431.9" font-size="56.18">=</tspan><tspan x="2080.4" y="431.9" font-size="56.18">0</tspan></text>
</svg>
</body>
</html>
